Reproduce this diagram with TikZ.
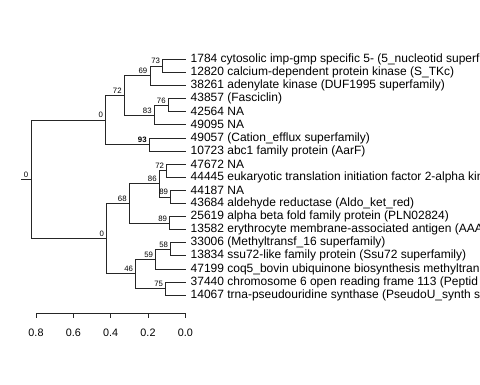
\documentclass[tikz,border=0pt]{standalone}
\usepackage{fontspec}
\setmainfont{Liberation Sans}

\begin{document}
\begin{tikzpicture}[x=1pt, y=-1pt,
  branch/.style={draw=black!85, line width=0.7pt},
  leaf/.style={anchor=west, inner xsep=5pt, inner ysep=0pt, font=\fontsize{12}{14}\selectfont},
  bslab/.style={anchor=base east, inner sep=0pt, xshift=-2.5pt, yshift=2pt, font=\fontsize{7.8}{9}\selectfont},
  axlab/.style={inner sep=0pt, font=\fontsize{10.8}{12}\selectfont}]

  \useasboundingbox (0,0) rectangle (480,384);
  \clip (0,0) rectangle (480,384);

  % leaves
  \node[leaf] (t1784)  at (185.5, 59.3)  {1784 cytosolic imp-gmp specific 5- (5\_nucleotid superf};
  \node[leaf] (t12820) at (185.5, 72.4)  {12820 calcium-dependent protein kinase (S\_TKc)};
  \node[leaf] (t38261) at (185.5, 85.5)  {38261 adenylate kinase (DUF1995 superfamily)};
  \node[leaf] (t43857) at (185.5, 98.6)  {43857 (Fasciclin)};
  \node[leaf] (t42564) at (185.5, 111.7) {42564 NA};
  \node[leaf] (t49095) at (185.5, 124.8) {49095 NA};
  \node[leaf] (t49057) at (185.5, 137.9) {49057 (Cation\_efflux superfamily)};
  \node[leaf] (t10723) at (185.5, 151.0) {10723 abc1 family protein (AarF)};
  \node[leaf] (t47672) at (185.5, 164.1) {47672 NA};
  \node[leaf] (t44445) at (185.5, 177.2) {44445 eukaryotic translation initiation factor 2-alpha kin};
  \node[leaf] (t44187) at (185.5, 190.3) {44187 NA};
  \node[leaf] (t43684) at (185.5, 203.4) {43684 aldehyde reductase (Aldo\_ket\_red)};
  \node[leaf] (t25619) at (185.5, 216.5) {25619 alpha beta fold family protein (PLN02824)};
  \node[leaf] (t13582) at (185.5, 229.6) {13582 erythrocyte membrane-associated antigen (AAA};
  \node[leaf] (t33006) at (185.5, 242.7) {33006 (Methyltransf\_16 superfamily)};
  \node[leaf] (t13834) at (185.5, 255.8) {13834 ssu72-like family protein (Ssu72 superfamily)};
  \node[leaf] (t47199) at (185.5, 268.9) {47199 coq5\_bovin ubiquinone biosynthesis methyltran};
  \node[leaf] (t37440) at (185.5, 282.0) {37440 chromosome 6 open reading frame 113 (Peptid};
  \node[leaf] (t14067) at (185.5, 295.1) {14067 trna-pseudouridine synthase (PseudoU\_synth s};

  % inner nodes
  \coordinate (n73)  at (162.7, 65.85);
  \coordinate (n69)  at (150.0, 75.7);
  \coordinate (n76)  at (168.3, 105.15);
  \coordinate (n83)  at (154.3, 115.0);
  \coordinate (n72a) at (124.3, 95.3);
  \coordinate (n93)  at (149.3, 144.45);
  \coordinate (n0a)  at (105.7, 119.9);
  \coordinate (n72b) at (166.7, 170.65);
  \coordinate (n89a) at (170.7, 196.85);
  \coordinate (n86)  at (159.3, 183.75);
  \coordinate (n89b) at (169.7, 223.05);
  \coordinate (n68)  at (129.3, 203.4);
  \coordinate (n58)  at (170.7, 249.25);
  \coordinate (n59)  at (155.7, 259.1);
  \coordinate (n75)  at (165.7, 288.55);
  \coordinate (n46)  at (135.7, 273.8);
  \coordinate (n0b)  at (106.7, 238.6);
  \coordinate (root) at (31.0, 179.25);
  \coordinate (base) at (21.0, 179.25);

  % branches
  \draw[branch] (base) -- (root);
  \draw[branch] (root) |- (n0a);
  \draw[branch] (root) |- (n0b);
  \draw[branch] (n0a) |- (n72a);
  \draw[branch] (n0a) |- (n93);
  \draw[branch] (n72a) |- (n69);
  \draw[branch] (n72a) |- (n83);
  \draw[branch] (n69) |- (n73);
  \draw[branch] (n69) |- (t38261);
  \draw[branch] (n73) |- (t1784);
  \draw[branch] (n73) |- (t12820);
  \draw[branch] (n83) |- (n76);
  \draw[branch] (n83) |- (t49095);
  \draw[branch] (n76) |- (t43857);
  \draw[branch] (n76) |- (t42564);
  \draw[branch] (n93) |- (t49057);
  \draw[branch] (n93) |- (t10723);
  \draw[branch] (n0b) |- (n68);
  \draw[branch] (n0b) |- (n46);
  \draw[branch] (n68) |- (n86);
  \draw[branch] (n68) |- (n89b);
  \draw[branch] (n86) |- (n72b);
  \draw[branch] (n86) |- (n89a);
  \draw[branch] (n72b) |- (t47672);
  \draw[branch] (n72b) |- (t44445);
  \draw[branch] (n89a) |- (t44187);
  \draw[branch] (n89a) |- (t43684);
  \draw[branch] (n89b) |- (t25619);
  \draw[branch] (n89b) |- (t13582);
  \draw[branch] (n46) |- (n59);
  \draw[branch] (n46) |- (n75);
  \draw[branch] (n59) |- (n58);
  \draw[branch] (n59) |- (t47199);
  \draw[branch] (n58) |- (t33006);
  \draw[branch] (n58) |- (t13834);
  \draw[branch] (n75) |- (t37440);
  \draw[branch] (n75) |- (t14067);

  % support values
  \node[bslab] at (root) {0};
  \node[bslab] at (n0a) {0};
  \node[bslab] at (n0b) {0};
  \node[bslab] at (n72a) {72};
  \node[bslab] at (n69) {69};
  \node[bslab] at (n73) {73};
  \node[bslab] at (n83) {83};
  \node[bslab] at (n76) {76};
  \node[bslab, font=\fontsize{7.8}{9}\selectfont\bfseries] at (n93) {93};
  \node[bslab] at (n72b) {72};
  \node[bslab] at (n86) {86};
  \node[bslab] at (n89a) {89};
  \node[bslab] at (n68) {68};
  \node[bslab] at (n89b) {89};
  \node[bslab] at (n46) {46};
  \node[bslab] at (n59) {59};
  \node[bslab] at (n58) {58};
  \node[bslab] at (n75) {75};

  % scale axis
  \coordinate (a08) at (36.0, 313);
  \coordinate (a06) at (73.3, 313);
  \coordinate (a04) at (110.7, 313);
  \coordinate (a02) at (148.0, 313);
  \coordinate (a00) at (185.3, 313);
  \draw[branch] (a08) -- (a00);
  \foreach \t/\v in {a08/0.8, a06/0.6, a04/0.4, a02/0.2, a00/0.0} {
    \draw[branch] (\t) -- ++(0,5);
    \path (\t) ++(0,20) node[axlab] {\v};
  }
\end{tikzpicture}
\end{document}
